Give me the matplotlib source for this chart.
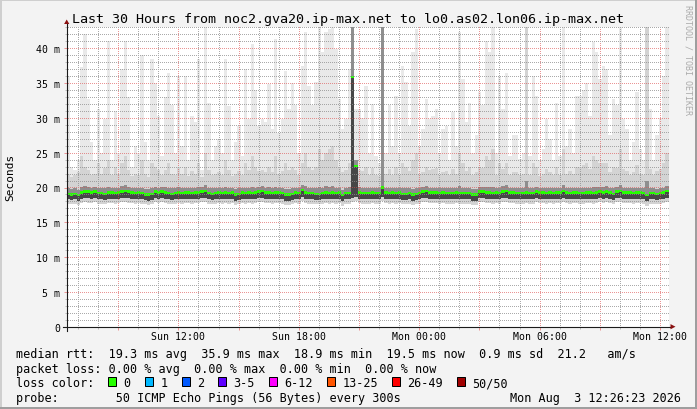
import numpy as np
import matplotlib
matplotlib.use('Agg')
import matplotlib.pyplot as plt
import matplotlib.ticker as mticker
from matplotlib.patches import Rectangle, Polygon
from matplotlib.lines import Line2D

W, H, DPI = 697, 410, 100

title = "Last 30 Hours from noc2.gva20.ip-max.net to lo0.as02.lon06.ip-max.net"
start_hour = 6 + 26 / 60      # Sun 06:26, hours since Sun 00:00
step_hours = 10 / 60          # 10-minute bins
span_hours = 30

# median rtt (ms) per 10-minute bin
median_rtt = [
    19.1, 19.0, 19.1, 18.9, 19.3, 19.4, 19.4, 19.3, 19.4, 19.2, 19.2, 19.1, 19.3, 19.3, 19.2, 19.3, 19.4, 19.5, 19.4, 19.3,
    19.2, 19.3, 19.2, 19.0, 19.0, 19.1, 19.4, 19.3, 19.4, 19.3, 19.2, 19.1, 19.2, 19.3, 19.2, 19.3, 19.3, 19.2, 19.3, 19.3,
    19.4, 19.5, 19.2, 19.1, 19.2, 19.3, 19.2, 19.3, 19.2, 19.3, 19.0, 19.1, 19.3, 19.2, 19.3, 19.2, 19.3, 19.4, 19.5, 19.3,
    19.3, 19.2, 19.3, 19.3, 19.2, 19.0, 19.0, 19.1, 19.3, 19.2, 19.6, 19.3, 19.2, 19.2, 19.1, 19.1, 19.2, 19.3, 19.2, 19.3,
    19.2, 19.3, 18.9, 19.2, 19.2, 35.9, 23.1, 19.3, 19.2, 19.2, 19.2, 19.3, 19.2, 19.2, 20.0, 19.3, 19.2, 19.3, 19.2, 19.3,
    19.1, 19.1, 19.2, 19.0, 19.1, 19.2, 19.4, 19.5, 19.3, 19.3, 19.3, 19.2, 19.3, 19.2, 19.2, 19.2, 19.3, 19.2, 19.2, 19.2,
    19.2, 19.0, 19.0, 19.4, 19.4, 19.3, 19.3, 19.2, 19.3, 19.2, 19.4, 19.5, 19.3, 19.3, 19.2, 19.2, 19.2, 19.3, 19.2, 19.2,
    19.4, 19.3, 19.3, 19.2, 19.3, 19.2, 19.3, 19.3, 19.5, 19.3, 19.2, 19.3, 19.3, 19.2, 19.2, 19.3, 19.3, 19.2, 19.3, 19.4,
    19.3, 19.4, 19.3, 19.1, 19.4, 19.5, 19.3, 19.3, 19.3, 19.2, 19.3, 19.3, 19.2, 18.9, 19.2, 19.2, 19.1, 19.2, 19.3, 19.5,
]

# slowest ping per bin (ms)
ping_max = [
    36, 23, 22.5, 24, 37.3, 42, 32.7, 26.5, 24, 31.3, 25, 29.8, 41, 24, 31, 25, 37, 41, 33, 23,
    26, 25, 39, 26.5, 24, 38.5, 35, 30.3, 24.5, 33, 36.5, 31.8, 25, 36, 26, 36, 24, 30.3, 29.4, 38.5,
    22.5, 43.5, 32.2, 24, 26, 27, 25, 38.5, 31.7, 24, 26.5, 28.9, 24.5, 37, 29.8, 40.6, 34, 28.9, 29.8, 29.4,
    34.9, 28.4, 41.3, 27.9, 29.8, 36.8, 31.3, 35, 31.8, 25, 37.5, 42.3, 34.6, 31.8, 35.1, 43.5, 39.4, 42.3, 42.8, 43.5,
    39.9, 32.7, 28.4, 29.8, 37, 60, 31.3, 31.3, 30, 34.6, 25, 32, 24.5, 23.5, 60, 25, 31.8, 26, 33.2, 25,
    37.5, 35.1, 28.9, 39.4, 42.8, 26, 28.4, 32.7, 29.8, 30.3, 31.3, 25, 28.4, 28.9, 24, 30.8, 26, 42.3, 35.6, 29.4,
    32.2, 25, 27.5, 33.7, 31.8, 41.1, 39.4, 43.5, 25, 36, 31.3, 36.5, 24.5, 27.5, 27.5, 24.1, 25, 60, 24.5, 36,
    33.2, 24, 25.5, 29.8, 27, 24, 32.2, 24.5, 43.5, 26, 28.4, 25, 33.2, 33.2, 34, 35, 30.3, 40.9, 39.4, 35.6,
    37.5, 37, 27.5, 32.7, 31.8, 43.5, 29.8, 28.4, 24, 26.5, 33.7, 25.5, 24, 60, 31.3, 24, 27.5, 30, 36, 43.5,
]

# upper part of the smoke (ms)
ping_hi = [
    22.0, 21.5, 21.8, 22.2, 24.5, 23.0, 22.5, 21.8, 22.0, 23.5, 22.0, 22.8, 24.0, 21.8, 23.0, 22.0, 23.5, 24.5, 22.5, 21.6,
    22.0, 21.8, 24.0, 22.0, 21.5, 23.5, 23.0, 22.5, 21.8, 22.5, 23.5, 22.0, 21.8, 23.0, 22.0, 23.0, 21.6, 22.4, 22.0, 23.5,
    21.5, 25.0, 22.5, 21.8, 22.0, 22.2, 21.8, 24.0, 22.5, 21.6, 22.0, 22.4, 21.8, 23.5, 22.5, 24.5, 23.0, 22.4, 22.5, 22.2,
    23.0, 22.2, 24.5, 22.0, 22.4, 23.5, 22.5, 23.0, 22.5, 21.8, 23.5, 25.0, 23.0, 22.5, 23.0, 25.5, 24.0, 25.0, 25.5, 26.0,
    24.0, 22.8, 22.2, 22.5, 23.5, 60, 24.0, 22.5, 22.4, 23.0, 21.8, 22.8, 21.8, 21.6, 60, 22.0, 22.6, 21.8, 23.0, 21.8,
    23.5, 23.0, 22.4, 24.0, 25.0, 22.0, 22.2, 23.0, 22.5, 22.6, 22.8, 21.8, 22.2, 22.4, 21.8, 22.6, 22.0, 25.0, 23.5, 22.4,
    23.0, 21.8, 22.2, 23.0, 22.8, 24.5, 24.0, 25.5, 21.8, 23.5, 22.6, 23.5, 21.8, 22.2, 22.2, 21.8, 22.0, 60, 21.8, 23.5,
    23.0, 21.6, 22.0, 22.6, 22.2, 21.8, 23.0, 21.8, 25.5, 22.0, 22.4, 22.0, 23.0, 23.0, 23.2, 23.5, 22.6, 24.5, 24.0, 23.5,
    23.5, 23.5, 22.2, 23.0, 22.8, 25.5, 22.6, 22.4, 21.8, 22.2, 23.2, 22.0, 21.8, 60, 22.6, 21.8, 22.4, 22.6, 23.5, 25.0,
]

# upper quartile of pings (ms)
ping_q75 = [
    19.9, 19.8, 19.9, 19.7, 20.1, 20.2, 20.1, 20.0, 20.1, 20.0, 19.9, 19.9, 20.1, 20.0, 20.0, 20.0, 20.2, 20.3, 20.1, 20.0,
    19.9, 20.0, 20.0, 19.8, 19.8, 19.9, 20.1, 20.0, 20.1, 20.1, 20.0, 19.9, 20.0, 20.1, 19.9, 20.0, 20.0, 19.9, 20.0, 20.1,
    20.1, 20.3, 20.0, 19.9, 19.9, 20.0, 19.9, 20.1, 20.0, 20.0, 19.8, 19.9, 20.0, 20.0, 20.0, 20.1, 20.0, 20.1, 20.2, 20.0,
    20.1, 19.9, 20.1, 20.0, 20.0, 19.8, 19.8, 19.9, 20.0, 19.9, 20.4, 20.2, 20.0, 20.0, 19.9, 20.1, 20.0, 20.2, 20.1, 20.2,
    20.0, 20.0, 19.7, 20.0, 20.1, 60, 24.0, 20.1, 20.0, 20.0, 19.9, 20.0, 19.9, 19.9, 60, 20.0, 19.9, 20.0, 20.0, 20.0,
    19.9, 19.9, 19.9, 19.8, 19.9, 19.9, 20.1, 20.2, 20.0, 20.0, 20.0, 19.9, 20.0, 20.0, 19.9, 20.0, 20.0, 20.2, 20.0, 19.9,
    20.0, 19.8, 19.8, 20.1, 20.1, 20.1, 20.1, 20.1, 20.0, 20.0, 20.2, 20.3, 20.0, 20.0, 19.9, 19.9, 19.9, 21.0, 19.9, 20.0,
    20.1, 20.0, 20.0, 19.9, 20.0, 19.9, 20.0, 20.0, 20.3, 20.0, 19.9, 20.0, 20.0, 20.0, 19.9, 20.0, 20.0, 20.1, 20.1, 20.1,
    20.1, 20.2, 20.0, 19.9, 20.1, 20.3, 20.0, 20.0, 20.0, 19.9, 20.0, 20.0, 19.9, 21.0, 19.9, 19.9, 19.8, 19.9, 20.0, 20.2,
]

# lower quartile of pings (ms)
ping_q25 = [
    18.3, 18.2, 18.3, 18.1, 18.4, 18.5, 18.5, 18.4, 18.5, 18.3, 18.3, 18.2, 18.4, 18.4, 18.3, 18.4, 18.5, 18.5, 18.5, 18.4,
    18.3, 18.4, 18.3, 18.2, 18.1, 18.2, 18.5, 18.4, 18.5, 18.4, 18.3, 18.2, 18.3, 18.4, 18.3, 18.4, 18.4, 18.3, 18.4, 18.4,
    18.5, 18.5, 18.3, 18.2, 18.3, 18.4, 18.3, 18.4, 18.3, 18.4, 18.1, 18.2, 18.4, 18.3, 18.4, 18.3, 18.4, 18.5, 18.5, 18.4,
    18.4, 18.3, 18.4, 18.4, 18.3, 18.1, 18.1, 18.2, 18.4, 18.3, 18.6, 18.4, 18.3, 18.3, 18.2, 18.2, 18.3, 18.4, 18.3, 18.4,
    18.3, 18.4, 18.0, 18.3, 18.3, 18.5, 18.6, 18.4, 18.3, 18.3, 18.3, 18.4, 18.3, 18.3, 18.6, 18.4, 18.3, 18.4, 18.3, 18.4,
    18.2, 18.2, 18.3, 18.1, 18.2, 18.3, 18.5, 18.5, 18.4, 18.4, 18.4, 18.3, 18.4, 18.3, 18.3, 18.3, 18.4, 18.3, 18.3, 18.3,
    18.3, 18.1, 18.1, 18.5, 18.5, 18.4, 18.4, 18.3, 18.4, 18.3, 18.5, 18.5, 18.4, 18.4, 18.3, 18.3, 18.3, 18.4, 18.3, 18.3,
    18.5, 18.4, 18.4, 18.3, 18.4, 18.3, 18.4, 18.4, 18.5, 18.4, 18.3, 18.4, 18.4, 18.3, 18.3, 18.4, 18.4, 18.3, 18.4, 18.5,
    18.4, 18.5, 18.4, 18.2, 18.5, 18.5, 18.4, 18.4, 18.4, 18.3, 18.4, 18.4, 18.3, 18.0, 18.3, 18.3, 18.2, 18.3, 18.4, 18.5,
]

# fastest ping per bin (ms)
ping_min = [
    17.7, 17.6, 17.7, 17.5, 17.8, 17.9, 17.8, 17.8, 17.9, 17.7, 17.7, 17.6, 17.8, 17.8, 17.7, 17.8, 17.9, 17.9, 17.8, 17.8,
    17.7, 17.8, 17.7, 17.6, 17.5, 17.6, 17.9, 17.8, 17.9, 17.8, 17.7, 17.6, 17.7, 17.8, 17.7, 17.8, 17.8, 17.7, 17.8, 17.8,
    17.9, 17.9, 17.7, 17.6, 17.7, 17.8, 17.7, 17.8, 17.7, 17.8, 17.5, 17.6, 17.8, 17.7, 17.8, 17.7, 17.8, 17.9, 17.9, 17.8,
    17.8, 17.7, 17.8, 17.8, 17.7, 17.5, 17.5, 17.6, 17.8, 17.7, 18.0, 17.8, 17.7, 17.7, 17.6, 17.6, 17.7, 17.8, 17.7, 17.8,
    17.7, 17.8, 17.4, 17.7, 17.7, 17.9, 18.0, 17.8, 17.7, 17.7, 17.7, 17.8, 17.7, 17.7, 18.0, 17.8, 17.7, 17.8, 17.7, 17.8,
    17.6, 17.6, 17.7, 17.5, 17.6, 17.7, 17.9, 17.9, 17.8, 17.8, 17.8, 17.7, 17.8, 17.7, 17.7, 17.7, 17.8, 17.7, 17.7, 17.7,
    17.7, 17.5, 17.5, 17.9, 17.9, 17.8, 17.8, 17.7, 17.8, 17.7, 17.9, 17.9, 17.8, 17.8, 17.7, 17.7, 17.7, 17.8, 17.7, 17.7,
    17.9, 17.8, 17.8, 17.7, 17.8, 17.7, 17.8, 17.8, 17.9, 17.8, 17.7, 17.8, 17.8, 17.7, 17.7, 17.8, 17.8, 17.7, 17.8, 17.9,
    17.8, 17.9, 17.8, 17.6, 17.9, 17.9, 17.8, 17.8, 17.8, 17.7, 17.8, 17.8, 17.7, 17.4, 17.7, 17.7, 17.6, 17.7, 17.8, 17.9,
]

y_ticks = [0, 5, 10, 15, 20, 25, 30, 35, 40]
y_tick_labels = ["0", "5 m", "10 m", "15 m", "20 m", "25 m", "30 m", "35 m", "40 m"]
x_tick_hours = [12, 18, 24, 30, 36]
x_tick_labels = ["Sun 12:00", "Sun 18:00", "Mon 00:00", "Mon 06:00", "Mon 12:00"]

legend_rtt = "median rtt:  19.3 ms avg  35.9 ms max  18.9 ms min  19.5 ms now  0.9 ms sd  21.2   am/s"
legend_loss = "packet loss: 0.00 % avg  0.00 % max  0.00 % min  0.00 % now"
loss_labels = ["0", "1", "2", "3-5", "6-12", "13-25", "26-49", "50/50"]
loss_colors = ["#26ff00", "#00b8ff", "#0059ff", "#5e00ff", "#ff00ff", "#ff5500", "#ff0000", "#a00000"]
probe_text = "probe:        50 ICMP Echo Pings (56 Bytes) every 300s"
stamp_text = "Mon Aug  3 12:26:23 2026"
watermark = "RRDTOOL / TOBI OETIKER"

plt.rcParams['font.family'] = ['DejaVu Sans Mono']

BG = '#f3f3f3'
fig = plt.figure(figsize=(W / DPI, H / DPI), dpi=DPI, facecolor=BG)

def fx(x):
    return x / W

def fy(y):
    return 1 - y / H

PL, PR, PT, PB = 66.7, 668.7, 28.0, 327.7
PX_PER_MS = 6.96
PX_PER_HOUR = (PR - PL) / span_hours
ymax = (PB - PT) / PX_PER_MS
ax = fig.add_axes([fx(PL), fy(PB), (PR - PL) / W, (PB - PT) / H])
ax.set_facecolor('white')
ax.set_xlim(start_hour, start_hour + span_hours)
ax.set_ylim(0, ymax)
for s in ax.spines.values():
    s.set_visible(False)

n = len(median_rtt)
edges = start_hour + np.arange(n + 1) * step_hours

def ext(a):
    a = np.asarray(a, dtype=float)
    return np.append(a, a[-1])

med = ext(median_rtt)
ax.fill_between(edges, ext(ping_min), ext(ping_max), step='post', color='#e9e9e9', lw=0, zorder=1.0)
ax.fill_between(edges, ext(ping_min), ext(ping_hi), step='post', color='#d3d3d3', lw=0, zorder=1.1)
ax.fill_between(edges, ext(ping_q25), ext(ping_q75), step='post', color='#8e8e8e', lw=0, zorder=1.2)
ax.fill_between(edges, ext(ping_q25), med, step='post', color='#474747', lw=0, zorder=1.3)
band = 0.17
ax.fill_between(edges, med - band, med + band, step='post', color=loss_colors[0], lw=0, zorder=1.5)

# ticks
ax.xaxis.set_major_locator(mticker.MultipleLocator(3))
ax.xaxis.set_minor_locator(mticker.MultipleLocator(1))
lab = dict(zip(x_tick_hours, x_tick_labels))
ax.xaxis.set_major_formatter(mticker.FuncFormatter(lambda v, p: lab.get(int(round(v)), '')))
ax.yaxis.set_major_locator(mticker.FixedLocator(y_ticks))
ax.yaxis.set_major_formatter(mticker.FixedFormatter(y_tick_labels))
ax.yaxis.set_minor_locator(mticker.MultipleLocator(1))

ax.tick_params(axis='both', which='major', length=2.2, width=0.72, color='#eb9696', labelsize=7.1)
ax.tick_params(axis='both', which='minor', length=1.5, width=0.72, color='#bdbdbd')
ax.tick_params(axis='y', which='major', pad=2.7)
ax.tick_params(axis='x', which='major', pad=0.6)

# dotted grid as a pixel overlay (one-pixel dots every other pixel), above the smoke
x_end = start_hour + span_hours
xmaj = [v for v in ax.xaxis.get_majorticklocs() if start_hour < v < x_end]
xmin = [v for v in ax.xaxis.get_minorticklocs() if start_hour < v < x_end
        and not any(abs(v - m) < 1e-6 for m in xmaj)]
ymaj = [v for v in y_ticks if v > 0]
ymin_ = [v for v in ax.yaxis.get_minorticklocs() if 0 < v < ymax and v not in y_ticks]

grid_img = np.zeros((H, W, 4))
GRID_RGBA = (0.56, 0.56, 0.56, 0.75)
MGRID_RGBA = (0.87, 0.31, 0.31, 0.60)
r0, r1 = int(round(PT)), int(round(PB))
c0, c1 = int(round(PL)) + 1, int(round(PR))

def col_of(v):
    return int(round(PL + (v - start_hour) * PX_PER_HOUR))

def row_of(v):
    return int(round(PB - v * PX_PER_MS))

for vals, rgba in ((xmin, GRID_RGBA), (xmaj, MGRID_RGBA)):
    for v in vals:
        c = col_of(v)
        grid_img[r0:r1:2, c] = rgba
for vals, rgba in ((ymin_, GRID_RGBA), (ymaj, MGRID_RGBA)):
    for v in vals:
        r = row_of(v)
        grid_img[r, c0:c1:2] = rgba
fig.figimage(grid_img, xo=0, yo=0, origin='upper', zorder=1)

# axes lines and arrows
AX = '#1a1a1a'
ARROW = '#8b1010'
fig.add_artist(Line2D([fx(PL), fx(PL)], [fy(PB + 4), fy(24.5)], color=AX, lw=0.8, transform=fig.transFigure, zorder=2))
fig.add_artist(Line2D([fx(PL - 4), fx(670.5)], [fy(PB), fy(PB)], color=AX, lw=0.8, transform=fig.transFigure, zorder=2))
fig.add_artist(Polygon([[fx(PL - 2.6), fy(25.0)], [fx(PL + 2.6), fy(25.0)], [fx(PL), fy(20.5)]],
                       closed=True, color=ARROW, lw=0, transform=fig.transFigure, zorder=2))
fig.add_artist(Polygon([[fx(670.5), fy(PB - 2.6)], [fx(670.5), fy(PB + 2.6)], [fx(675.5), fy(PB)]],
                       closed=True, color=ARROW, lw=0, transform=fig.transFigure, zorder=2))

# frame
fig.add_artist(Rectangle((0, fy(2)), 1, 2 / H, color='#cfcfcf', lw=0, transform=fig.transFigure))
fig.add_artist(Rectangle((0, 0), 2 / W, 1, color='#cfcfcf', lw=0, transform=fig.transFigure))
fig.add_artist(Rectangle((fx(W - 2), 0), 2 / W, 1, color='#9e9e9e', lw=0, transform=fig.transFigure))
fig.add_artist(Rectangle((0, 0), 1, 2 / H, color='#9e9e9e', lw=0, transform=fig.transFigure))

# texts
fig.text(fx(348.5), fy(22.5), title, ha='center', va='baseline', fontsize=9.6)
fig.text(fx(10), fy(177), "Seconds", rotation=90, ha='center', va='center', fontsize=8)
fig.text(fx(688), fy(5), watermark, rotation=-90, ha='center', va='top', fontsize=6, color='#ababab')

LX = 16.4
FS = 8.5
CW = 7.1
fig.text(fx(LX), fy(358.5), legend_rtt, ha='left', va='baseline', fontsize=FS)
fig.text(fx(LX), fy(373.0), legend_loss, ha='left', va='baseline', fontsize=FS)
fig.text(fx(LX), fy(387.3), "loss color:", ha='left', va='baseline', fontsize=FS)
x = 108.4
for lbl, col in zip(loss_labels, loss_colors):
    fig.add_artist(Rectangle((fx(x), fy(386.5)), 8 / W, 9 / H, facecolor=col, edgecolor='black',
                             lw=0.72, transform=fig.transFigure))
    tx = x + 15.3
    fig.text(fx(tx), fy(387.3), lbl, ha='left', va='baseline', fontsize=FS)
    x = tx + len(lbl) * CW + 2 * CW
fig.text(fx(LX), fy(401.8), probe_text, ha='left', va='baseline', fontsize=FS)
fig.text(fx(681.5), fy(401.8), stamp_text, ha='right', va='baseline', fontsize=FS)

fig.savefig('out.png', dpi=DPI, facecolor=BG)
